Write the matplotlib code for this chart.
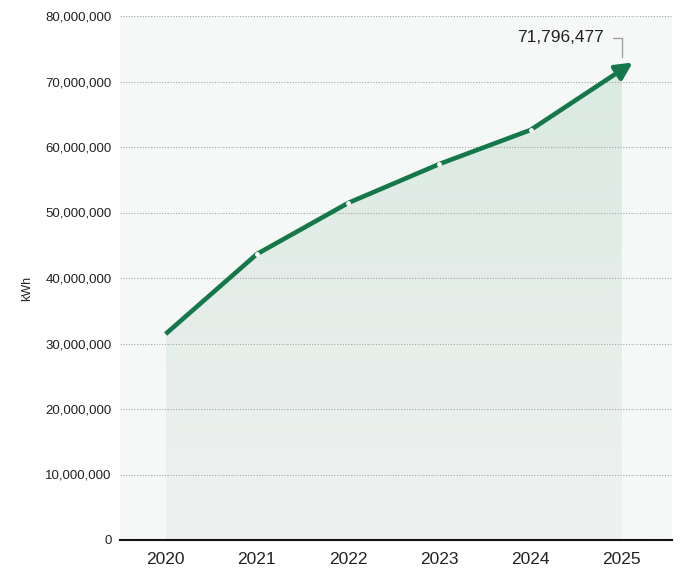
import numpy as np
import matplotlib.pyplot as plt
from matplotlib.ticker import FuncFormatter
from matplotlib.path import Path
from matplotlib.patches import PathPatch
from matplotlib.colors import LinearSegmentedColormap

years = ['2020', '2021', '2022', '2023', '2024', '2025']
kwh = [31450000, 43650000, 51450000, 57400000, 62600000, 71796477]
y_ticks = [0, 10e6, 20e6, 30e6, 40e6, 50e6, 60e6, 70e6, 80e6]

line_color = '#14784a'
plt.rcParams['font.family'] = ['Liberation Sans', 'DejaVu Sans']

fig = plt.figure(figsize=(6.84, 5.71), dpi=100)
ax = fig.add_axes([120 / 684, 31 / 571, 552 / 684, 524 / 571])
ax.set_facecolor('#f6f8f7')

x = np.arange(len(years))
ax.set_xlim(-0.5, len(years) - 0.45)
ax.set_ylim(0, 80e6)

# gradient area under the line, clipped to the polygon
verts = [(x[0], 0)] + list(zip(x, kwh)) + [(x[-1], 0), (x[0], 0)]
clip = PathPatch(Path(verts), facecolor='none', edgecolor='none')
ax.add_patch(clip)
cmap = LinearSegmentedColormap.from_list('area', ['#eff1f0', '#d8e9e1'])
grad = np.linspace(0, 1, 256).reshape(-1, 1)
img = ax.imshow(grad, cmap=cmap, aspect='auto', origin='lower',
                extent=[x[0], x[-1], 0, 80e6], zorder=1)
img.set_clip_path(clip)

ax.grid(axis='y', linestyle=(0, (1, 1.5)), color='#a8a8a8', linewidth=0.8, zorder=2)
ax.set_axisbelow(False)

ax.plot(x, kwh, color=line_color, linewidth=3.3, solid_capstyle='butt', zorder=4)
ax.scatter(x[1:-1], kwh[1:-1], s=6, color='white', zorder=5)

# arrow head past the last point along the last segment
tip_x = x[-1] + 0.12 * (x[-1] - x[-2])
tip_y = kwh[-1] + 0.12 * (kwh[-1] - kwh[-2])
ax.annotate('', xy=(tip_x, tip_y), xytext=(x[-1] - 0.05, kwh[-1] - 0.05 * (kwh[-1] - kwh[-2])),
            arrowprops=dict(arrowstyle='-|>,head_length=1.0,head_width=0.5',
                            color=line_color, lw=3.3, shrinkA=0, shrinkB=0), zorder=5)

# value label with leader line
ax.annotate(f'{kwh[-1]:,}', xy=(x[-1], kwh[-1] + 1.9e6), xytext=(x[-1] - 0.2, 76.7e6),
            ha='right', va='center', fontsize=12.5, color='#222222',
            arrowprops=dict(arrowstyle='-', color='#a0a0a0', lw=1,
                            connectionstyle='angle,angleA=0,angleB=90,rad=0',
                            shrinkA=5, shrinkB=0), zorder=6)

ax.set_xticks(x)
ax.set_xticklabels(years, fontsize=12.5, color='#222222')
ax.set_yticks(y_ticks)
ax.yaxis.set_major_formatter(FuncFormatter(lambda v, p: f'{int(v):,}'))
ax.tick_params(axis='y', length=0, labelsize=9.5, labelcolor='#222222', pad=6)
ax.tick_params(axis='x', length=0, pad=9)
ax.set_ylabel('kWh', fontsize=9, color='#222222')
ax.yaxis.set_label_coords(-0.158, 0.48)

for side in ['top', 'right', 'left']:
    ax.spines[side].set_visible(False)
ax.spines['bottom'].set_color('#111111')
ax.spines['bottom'].set_linewidth(1.5)

fig.savefig('out.png', dpi=100, facecolor='white')
